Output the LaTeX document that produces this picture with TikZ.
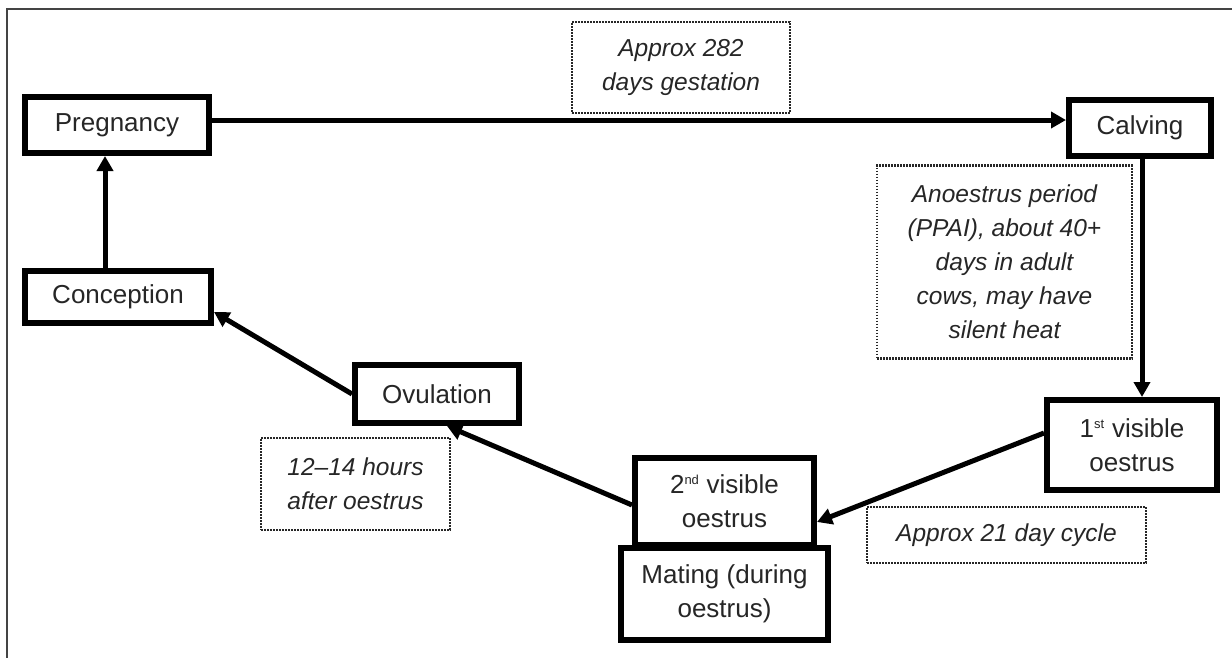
\documentclass[tikz,border=0pt]{standalone}
\usepackage{fontspec}
\setmainfont{Liberation Sans}
\usetikzlibrary{arrows.meta}
\definecolor{txt}{HTML}{262626}
\definecolor{frame}{HTML}{444444}
\tikzset{
  x=1pt, y=-1pt,
  stagebox/.style={draw=black, line width=6pt, fill=white, rectangle, align=center,
    text=txt, font=\fontsize{26}{34}\selectfont, inner sep=0pt},
  notebox/.style={draw=black!85, line width=2.3pt, dash pattern=on 1.7pt off 1.3pt, rectangle,
    align=center, text=txt, font=\fontsize{24.5}{34}\selectfont\itshape, inner sep=0pt},
  arr/.style={line width=5pt, -{Triangle[length=15pt,width=16pt]}, black},
}
\newcommand{\supx}[1]{\textsuperscript{\fontsize{13}{13}\selectfont #1}}
\begin{document}
\begin{tikzpicture}
\useasboundingbox (0,0) rectangle (1232,657);
\draw[frame, line width=1.6pt] (7,665) -- (7,9) -- (1240,9);

\node[stagebox, minimum width=184pt, minimum height=56pt] (preg) at (117,125) {Pregnancy};
\node[stagebox, minimum width=142pt, minimum height=56pt] (calv) at (1140,128) {Calving};
\node[stagebox, minimum width=186pt, minimum height=52pt] (conc) at (118,297) {Conception};
\node[stagebox, minimum width=164pt, minimum height=58pt] (ovul) at (437,394) {Ovulation};
\node[stagebox, minimum width=179pt, minimum height=87pt] (second) at (724.5,501) {2\supx{nd} visible\\oestrus};
\node[stagebox, minimum width=207pt, minimum height=92pt] (mating) at (724.5,594) {Mating (during\\oestrus)};
\node[stagebox, minimum width=170pt, minimum height=90pt] (first) at (1132,445) {1\supx{st} visible\\oestrus};

\node[notebox, minimum width=218pt, minimum height=91pt] (gest) at (681,67.5) {Approx 282\\days gestation};
\node[notebox, minimum width=255pt, minimum height=193pt] (anoe) at (1004.5,262) {Anoestrus period\\(PPAI), about 40+\\days in adult\\cows, may have\\silent heat};
\node[notebox, minimum width=189pt, minimum height=92pt] (hours) at (355.5,484) {12–14 hours\\after oestrus};
\node[notebox, minimum width=279pt, minimum height=56pt] (cycle) at (1006.5,535) {Approx 21 day cycle};

\draw[arr] ([yshift=5pt]preg.east) -- ([yshift=8pt]calv.west);
\draw[arr] ([xshift=2pt]calv.south) -- ([xshift=2pt]calv.south |- first.north);
\draw[arr] ([yshift=12pt]first.west) -- ([yshift=-21pt]second.east);
\draw[arr] ([yshift=-4pt]second.west) -- ([xshift=10pt]ovul.south);
\draw[arr] (ovul.west) -- ([yshift=-15pt]conc.east);
\draw[arr] ([xshift=-13pt]conc.north) -- ([xshift=-13pt]conc.north |- preg.south);
\end{tikzpicture}
\end{document}
